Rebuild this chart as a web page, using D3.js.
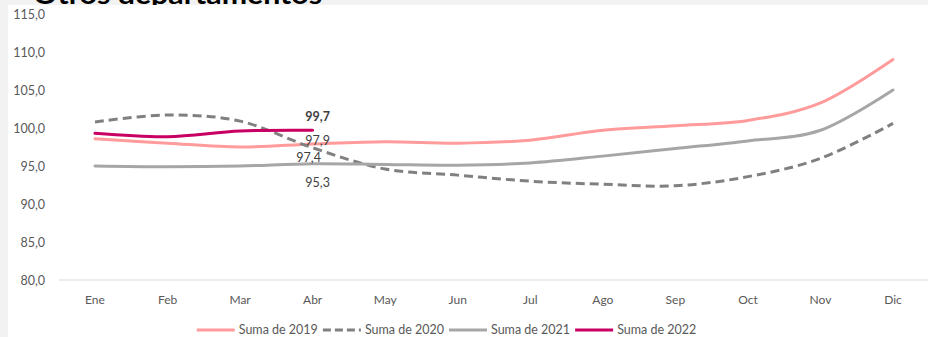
<!DOCTYPE html>
<html>
<head>
<meta charset="utf-8">
<script src="https://cdn.jsdelivr.net/npm/d3@7"></script>
<style>
  html, body { margin: 0; padding: 0; background: #f2f2f2; }
  svg { display: block; }
</style>
</head>
<body>
<svg id="chart" width="928" height="337"></svg>
<script>
const months = ["Ene","Feb","Mar","Abr","May","Jun","Jul","Ago","Sep","Oct","Nov","Dic"];
const yTicks = [80, 85, 90, 95, 100, 105, 110, 115];
const s2019 = [98.6, 98.0, 97.5, 97.9, 98.2, 98.0, 98.4, 99.7, 100.3, 101.0, 103.3, 109.0];
const s2020 = [100.8, 101.7, 100.9, 97.4, 94.6, 93.8, 93.0, 92.6, 92.4, 93.6, 96.0, 100.6];
const s2021 = [95.0, 94.9, 95.0, 95.3, 95.2, 95.1, 95.4, 96.3, 97.3, 98.3, 99.7, 105.0];
const s2022 = [99.3, 98.85, 99.6, 99.7];
const seriesNames = ["Suma de 2019", "Suma de 2020", "Suma de 2021", "Suma de 2022"];
const titleText = "Otros departamentos";

const series = [
  { name: seriesNames[0], values: s2019, color: "#ff9b9b", dash: null },
  { name: seriesNames[1], values: s2020, color: "#808080", dash: "9,5" },
  { name: seriesNames[2], values: s2021, color: "#a6a6a6", dash: null },
  { name: seriesNames[3], values: s2022, color: "#c80064", dash: null }
];

const svg = d3.select("#chart");
const font = "Lato, 'Open Sans', sans-serif";

// title (partially hidden behind plot area)
svg.append("text")
  .attr("x", 33).attr("y", 4)
  .attr("font-family", font).attr("font-weight", "bold")
  .attr("font-size", 27).attr("fill", "#000")
  .attr("textLength", 289).attr("lengthAdjust", "spacingAndGlyphs")
  .text(titleText);

// white plot panel
svg.append("rect").attr("x", 8).attr("y", 5).attr("width", 920).attr("height", 332).attr("fill", "#fff");

const x = d3.scalePoint().domain(months).range([95, 893]);
const y = d3.scaleLinear().domain([80, 115]).range([280, 14]);

// y labels
const fmt = v => d3.format(".1f")(v).replace(".", ",");
svg.append("g").selectAll("text").data(yTicks).join("text")
  .attr("x", 45).attr("y", d => y(d)).attr("dy", "0.36em")
  .attr("text-anchor", "end")
  .attr("font-family", font).attr("font-size", 12.5).attr("fill", "#595959")
  .text(fmt);

// baseline axis
svg.append("line").attr("x1", 59).attr("x2", 928)
  .attr("y1", y(80)).attr("y2", y(80))
  .attr("stroke", "#d9d9d9").attr("stroke-width", 1);

// x labels
svg.append("g").selectAll("text").data(months).join("text")
  .attr("x", d => x(d)).attr("y", 304)
  .attr("text-anchor", "middle")
  .attr("font-family", font).attr("font-size", 12).attr("fill", "#595959")
  .text(d => d);

// lines
const line = d3.line()
  .x((d, i) => x(months[i]))
  .y(d => y(d))
  .curve(d3.curveCardinal.tension(0));

svg.append("g").selectAll("path").data(series).join("path")
  .attr("d", d => line(d.values))
  .attr("fill", "none")
  .attr("stroke", d => d.color)
  .attr("stroke-width", 3)
  .attr("stroke-linecap", d => d.dash ? "butt" : "round")
  .attr("stroke-dasharray", d => d.dash);

// data labels at Abr
const ai = 3;
const labels = [
  { v: s2022[ai], dx: 5, bold: true },
  { v: s2019[ai], dx: 5, bold: false },
  { v: s2020[ai], dx: -4, bold: false },
  { v: s2021[ai], dx: 5, bold: false }
];
const labelY = [121, 145, 162, 187];
svg.append("g").selectAll("text").data(labels).join("text")
  .attr("x", d => x(months[ai]) + d.dx)
  .attr("y", (d, i) => labelY[i])
  .attr("text-anchor", "middle")
  .attr("font-family", font).attr("font-size", 12.5)
  .attr("font-weight", d => d.bold ? "bold" : "normal")
  .attr("fill", "#404040")
  .text(d => fmt(d.v));

// legend
const leg = svg.append("g");
let cx = 0;
series.forEach(s => {
  const g = leg.append("g").attr("transform", `translate(${cx},0)`);
  g.append("line").attr("x1", 0).attr("x2", 38).attr("y1", 0).attr("y2", 0)
    .attr("stroke", s.color).attr("stroke-width", 3)
    .attr("stroke-dasharray", s.dash ? "8,4" : null);
  const t = g.append("text").attr("x", 42).attr("y", 0).attr("dy", "0.35em")
    .attr("font-family", font).attr("font-size", 12.5).attr("fill", "#595959")
    .text(s.name);
  cx += 42 + t.node().getComputedTextLength() + 5;
});
const total = cx - 5;
leg.attr("transform", `translate(${446.5 - total / 2},330)`);
</script>
</body>
</html>
